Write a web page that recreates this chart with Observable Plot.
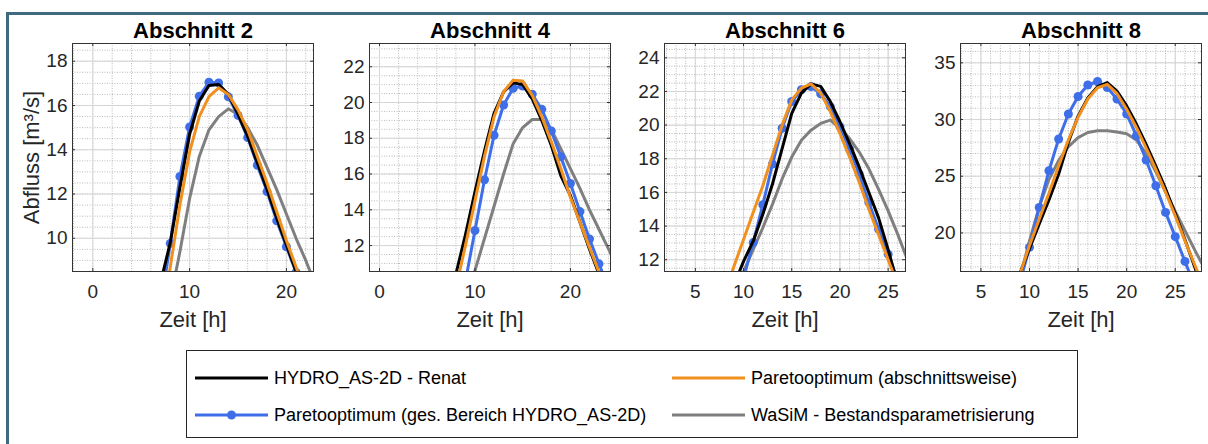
<!DOCTYPE html>
<html><head><meta charset="utf-8">
<script src="https://cdn.jsdelivr.net/npm/d3@7"></script>
<script src="https://cdn.jsdelivr.net/npm/@observablehq/plot@0.6"></script>
<style>
body{margin:0;background:#fff;font-family:"Liberation Sans",Arial,sans-serif;}
#wrap{position:relative;width:1208px;height:444px;overflow:hidden;background:#fff;}
.bt{position:absolute;left:6px;top:12px;width:1202px;height:3px;background:#3f6a80;}
.bl{position:absolute;left:6px;top:12px;width:3px;height:432px;background:#3f6a80;}
.panel{position:absolute;top:0;}
#legend{position:absolute;left:186px;top:350px;width:890px;height:86px;border:1px solid #262626;background:#fff;}
.item{position:absolute;height:22px;display:flex;align-items:center;font-size:18px;color:#000;white-space:nowrap;}
.item svg{margin-right:6px;}
</style></head><body>
<div id="wrap">
<div class="bt"></div><div class="bl"></div>
<div id="legend"></div>
</div>
<script>
// ---- data ----
const sections = ["Abschnitt 2", "Abschnitt 4", "Abschnitt 6", "Abschnitt 8"];
const seriesNames = ["HYDRO_AS-2D - Renat", "Paretooptimum (abschnittsweise)", "Paretooptimum (ges. Bereich HYDRO_AS-2D)", "WaSiM - Bestandsparametrisierung"];
const seriesColors = ["#000000", "#f0901e", "#3f6fe8", "#7f7f7f"];
const xLabel = "Zeit [h]";
const yLabel = "Abfluss [m³/s]";

// Abschnitt 2
const hoursA2 = [7, 8, 9, 10, 11, 12, 13, 14, 15, 16, 17, 18, 19, 20, 21, 22, 23];
const hydroA2 = [8.0, 9.8, 12.3, 14.7, 16.2, 16.9, 16.95, 16.5, 15.6, 14.6, 13.4, 12.2, 10.9, 9.7, 8.5, 7.3, null];
const paretoSecA2 = [5.9, 8.7, 11.5, 13.9, 15.5, 16.4, 16.8, 16.5, 15.8, 14.9, 13.7, 12.5, 11.2, 9.9, 8.7, 7.5, null];
const paretoAllA2 = [6.9, 9.77, 12.79, 15.03, 16.42, 17.05, 17.02, 16.39, 15.55, 14.55, 13.30, 12.11, 10.79, 9.62, 8.46, 7.3, null];
const wasimA2 = [5.2, 7.2, 9.4, 11.8, 13.7, 14.9, 15.5, 15.85, 15.6, 15.0, 14.2, 13.2, 12.2, 11.1, 10.0, 9.0, 7.9];
const xTicksA2 = [0, 10, 20];
const yTicksA2 = [10, 12, 14, 16, 18];

// Abschnitt 4
const hoursA4 = [8, 9, 10, 11, 12, 13, 14, 15, 16, 17, 18, 19, 20, 21, 22, 23, 24, 25];
const hydroA4 = [10.4, 12.6, 15.0, 17.3, 19.4, 20.6, 21.1, 21.0, 20.2, 19.0, 17.6, 15.9, 14.8, 13.3, 11.8, 10.4, 9.0, null];
const paretoSecA4 = [9.6, 12.0, 14.5, 17.0, 19.2, 20.6, 21.25, 21.2, 20.4, 19.2, 17.8, 16.3, 14.7, 13.3, 11.9, 10.5, 9.1, null];
const paretoAllA4 = [7.2, 10.0, 12.84, 15.68, 18.17, 19.86, 20.8, 20.92, 20.46, 19.62, 18.41, 16.96, 15.47, 13.9, 12.37, 10.98, 9.6, null];
const wasimA4 = [null, 8.8, 10.6, 12.4, 14.2, 16.0, 17.7, 18.6, 19.05, 19.05, 18.5, 17.4, 16.3, 15.2, 14.0, 12.9, 11.8, 10.7];
const xTicksA4 = [0, 10, 20];
const yTicksA4 = [12, 14, 16, 18, 20, 22];

// Abschnitt 6
const hoursA6 = [8, 9, 10, 11, 12, 13, 14, 15, 16, 17, 18, 19, 20, 21, 22, 23, 24, 25, 26, 27, 28];
const hydroA6 = [8.9, 10.5, 11.9, 13.1, 14.7, 16.5, 18.6, 20.7, 21.9, 22.45, 22.3, 21.4, 20.2, 18.9, 17.5, 16.0, 14.5, 12.6, 10.5, null, null];
const paretoSecA6 = [9.9, 11.6, 13.2, 14.8, 16.4, 18.2, 20.0, 21.5, 22.2, 22.45, 21.9, 20.8, 19.5, 18.1, 16.6, 15.0, 13.5, 12.0, 10.5, null, null];
const paretoAllA6 = [null, 8.7, 10.9, 13.02, 15.27, 17.69, 19.81, 21.4, 22.1, 22.29, 21.86, 21.1, 19.91, 18.58, 17.1, 15.4, 13.82, 12.33, 10.8, null, null];
const wasimA6 = [null, 10.0, 11.3, 12.6, 13.9, 15.3, 16.8, 18.1, 19.1, 19.7, 20.1, 20.3, 19.8, 19.2, 18.4, 17.4, 16.2, 14.9, 13.5, 12.0, 10.5];
const xTicksA6 = [5, 10, 15, 20, 25];
const yTicksA6 = [12, 14, 16, 18, 20, 22, 24];

// Abschnitt 8
const hoursA8 = [8, 9, 10, 11, 12, 13, 14, 15, 16, 17, 18, 19, 20, 21, 22, 23, 24, 25, 26, 27, 28, 29];
const hydroA8 = [14.0, 16.4, 18.6, 20.8, 22.9, 25.2, 28.0, 30.3, 31.9, 32.9, 33.25, 32.5, 31.2, 29.6, 27.8, 25.9, 23.9, 21.7, 19.4, 17.0, 14.6, null];
const paretoSecA8 = [13.7, 16.3, 18.9, 21.2, 23.5, 25.9, 28.2, 30.2, 31.8, 32.8, 33.1, 32.3, 30.9, 29.3, 27.5, 25.6, 23.6, 21.5, 19.3, 17.2, 15.1, null];
const paretoAllA8 = [12.6, 15.6, 18.73, 22.25, 25.48, 28.28, 30.48, 32.03, 33.04, 33.35, 32.82, 31.8, 30.48, 28.57, 26.43, 24.16, 21.81, 19.67, 17.49, 15.3, null, null];
const wasimA8 = [12.8, 16.0, 19.3, 22.3, 24.7, 26.4, 27.6, 28.4, 28.85, 29.0, 29.0, 28.9, 28.75, 28.2, 27.0, 25.4, 23.6, 21.9, 20.2, 18.5, 16.9, 15.3];
const xTicksA8 = [5, 10, 15, 20, 25];
const yTicksA8 = [20, 25, 30, 35];

// ---- layout / axis limits ----
const panels = [
  {title: sections[0], hours: hoursA2, vals: [hydroA2, paretoSecA2, paretoAllA2, wasimA2], xTicks: xTicksA2, yTicks: yTicksA2,
   xDomain: [-2.1, 22.8], yDomain: [8.5, 18.8], xMinor: 2, yMinor: 0.5, left: 0, yLab: true},
  {title: sections[1], hours: hoursA4, vals: [hydroA4, paretoSecA4, paretoAllA4, wasimA4], xTicks: xTicksA4, yTicks: yTicksA4,
   xDomain: [-1.05, 24.2], yDomain: [10.55, 23.3], xMinor: 2, yMinor: 0.5, left: 297},
  {title: sections[2], hours: hoursA6, vals: [hydroA6, paretoSecA6, paretoAllA6, wasimA6], xTicks: xTicksA6, yTicks: yTicksA6,
   xDomain: [1.8, 26.8], yDomain: [11.3, 24.85], xMinor: 1, yMinor: 0.5, left: 592},
  {title: sections[3], hours: hoursA8, vals: [hydroA8, paretoSecA8, paretoAllA8, wasimA8], xTicks: xTicksA8, yTicks: yTicksA8,
   xDomain: [2.9, 27.7], yDomain: [16.6, 36.7], xMinor: 1, yMinor: 1, left: 888}
];

const W = 321, H = 340, ML = 72, MR = 8, MT = 43, MB = 69;
const FW = W - ML - MR, FH = H - MT - MB;
const fontFamily = '"Liberation Sans", Arial, sans-serif';

function rangeIn(dom, step) {
  const out = [];
  for (let v = Math.ceil(dom[0] / step) * step; v <= dom[1] + 1e-9; v += step) out.push(+v.toFixed(6));
  return out;
}

const wrap = document.getElementById("wrap");
for (const p of panels) {
  const rows = (k) => p.hours.map((h, i) => ({h, q: p.vals[k][i]})).filter(d => d.q != null);
  const lineOf = (k, sw) => Plot.line(rows(k), {x: "h", y: "q", stroke: seriesColors[k], strokeWidth: sw, clip: true});
  const minorX = rangeIn(p.xDomain, p.xMinor);
  const minorY = rangeIn(p.yDomain, p.yMinor);
  const chart = Plot.plot({
    width: W, height: H, marginLeft: ML, marginRight: MR, marginTop: MT, marginBottom: MB,
    x: {domain: p.xDomain}, y: {domain: p.yDomain},
    style: {background: "transparent", overflow: "visible", fontFamily, fontSize: "19px", color: "#262626"},
    marks: [
      Plot.ruleX(minorX, {stroke: "#a8a8a8", strokeDasharray: "1,1.5", strokeWidth: 0.8}),
      Plot.ruleY(minorY, {stroke: "#a8a8a8", strokeDasharray: "1,1.5", strokeWidth: 0.8}),
      Plot.ruleX(p.xTicks, {stroke: "#d6d6d6", strokeWidth: 1}),
      Plot.ruleY(p.yTicks, {stroke: "#d6d6d6", strokeWidth: 1}),
      lineOf(3, 3),
      lineOf(2, 3),
      Plot.dot(rows(2), {x: "h", y: "q", r: 4.5, fill: seriesColors[2], clip: true}),
      lineOf(0, 3),
      lineOf(1, 3),
      Plot.frame({stroke: "#333", strokeWidth: 1}),
      Plot.tickX(p.xTicks, {x: d => d, insetTop: FH - 3, stroke: "#333"}),
      Plot.tickX(p.xTicks, {x: d => d, insetBottom: FH - 3, stroke: "#333"}),
      Plot.tickY(p.yTicks, {y: d => d, insetRight: FW - 3, stroke: "#333"}),
      Plot.tickY(p.yTicks, {y: d => d, insetLeft: FW - 3, stroke: "#333"}),
      Plot.axisX(p.xTicks, {tickSize: 0, tickPadding: 13, label: null, fontSize: 19, fill: "#262626"}),
      Plot.axisY(p.yTicks, {tickSize: 0, tickPadding: 5, label: null, fontSize: 19, fill: "#262626"}),
      Plot.text([p.title], {frameAnchor: "top", lineAnchor: "middle", dy: -13, fontWeight: "bold", fontSize: 22, fill: "#000"}),
      Plot.text([xLabel], {frameAnchor: "bottom", lineAnchor: "middle", dy: 48, fontSize: 22, fill: "#262626"}),
      p.yLab ? Plot.text([yLabel], {frameAnchor: "left", textAnchor: "middle", lineAnchor: "middle", rotate: -90, dx: -41, fontSize: 22, fill: "#262626"}) : null
    ]
  });
  chart.classList.add("panel");
  chart.style.left = p.left + "px";
  chart.style.position = "absolute";
  chart.style.top = "0px";
  wrap.insertBefore(chart, document.getElementById("legend"));
}

// ---- legend ----
const legend = document.getElementById("legend");
const legendPos = [[8, 16], [485, 16], [8, 53], [485, 53]];
const legendOrder = [0, 1, 2, 3];
legendOrder.forEach((k, i) => {
  const it = document.createElement("div");
  it.className = "item";
  it.style.left = legendPos[i][0] + "px";
  it.style.top = legendPos[i][1] + "px";
  const ns = "http://www.w3.org/2000/svg";
  const s = document.createElementNS(ns, "svg");
  s.setAttribute("width", 73); s.setAttribute("height", 12);
  const l = document.createElementNS(ns, "line");
  l.setAttribute("x1", 0); l.setAttribute("x2", 73); l.setAttribute("y1", 6); l.setAttribute("y2", 6);
  l.setAttribute("stroke", seriesColors[k]); l.setAttribute("stroke-width", 3);
  s.appendChild(l);
  if (k === 2) {
    const c = document.createElementNS(ns, "circle");
    c.setAttribute("cx", 36.5); c.setAttribute("cy", 6); c.setAttribute("r", 4.5); c.setAttribute("fill", seriesColors[k]);
    s.appendChild(c);
  }
  it.appendChild(s);
  const t = document.createElement("span");
  t.textContent = seriesNames[k];
  it.appendChild(t);
  legend.appendChild(it);
});
</script>
</body></html>
